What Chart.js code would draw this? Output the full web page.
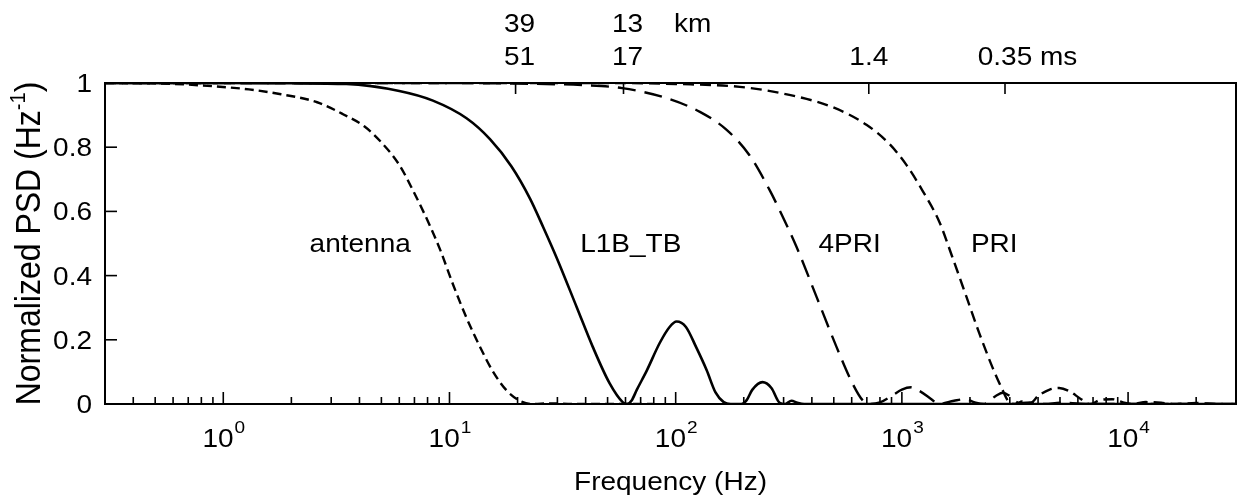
<!DOCTYPE html>
<html>
<head>
<meta charset="utf-8">
<script src="https://cdn.jsdelivr.net/npm/chart.js@4.4.1/dist/chart.umd.min.js"></script>
<style>
  html, body { margin: 0; padding: 0; background: #ffffff; }
  #c { display: block; }
</style>
</head>
<body>
<canvas id="c" width="1244" height="500"></canvas>
<script>
// ---------------- data ----------------
const antennaFreq = [0.3, 0.6, 0.9, 1.3, 1.8, 2.6, 3.4, 4.2, 5.0, 6.0, 6.9, 8.2, 9.1, 10.4, 11.9, 13.6, 15.6, 17.9, 20.5, 23, 28, 35, 50, 80];
const antennaPSD  = [1.0, 0.997, 0.99, 0.98, 0.965, 0.94, 0.902, 0.865, 0.815, 0.745, 0.665, 0.555, 0.48, 0.37, 0.268, 0.18, 0.10, 0.042, 0.01, 0.0, 0.002, 0.0, 0.0, 0.0];

const l1bFreq = [0.3, 1, 2, 3.5, 6.0, 8.45, 11.9, 15.1, 18.8, 22.7, 26, 29.8, 36.6, 43, 51, 58.3, 61,
                 64, 67.3, 74.5, 85, 94, 101, 111, 123, 137, 150, 163, 175, 195, 206, 218, 242, 265, 288, 305, 325, 345, 370, 500, 1000, 5000, 30000];
const l1bPSD  = [1.0, 1.0, 0.999, 0.997, 0.975, 0.945, 0.89, 0.825, 0.74, 0.64, 0.55, 0.455, 0.30, 0.178, 0.065, 0.006, 0.0,
                 0.012, 0.044, 0.104, 0.19, 0.24, 0.257, 0.24, 0.178, 0.106, 0.036, 0.006, 0.0, 0.0, 0.012, 0.044, 0.068, 0.05, 0.004, 0.0, 0.01, 0.004, 0.0, 0.0, 0.0, 0.0, 0.0];

const pri4Freq = [0.3, 10, 20, 40, 58, 91, 128, 168, 212, 260, 288, 342, 420, 514, 604, 670, 720,
                  800, 900, 1000, 1100, 1200, 1350, 1450, 1700, 1900, 2100, 2300, 2600, 2800, 3000, 3300, 3800, 4300, 5000, 7000, 30000];
const pri4PSD  = [1.0, 1.0, 0.998, 0.993, 0.984, 0.953, 0.91, 0.854, 0.775, 0.667, 0.604, 0.49, 0.333, 0.178, 0.065, 0.012, 0.0,
                  0.005, 0.025, 0.045, 0.052, 0.04, 0.015, 0.0, 0.01, 0.015, 0.005, 0.0, 0.025, 0.035, 0.025, 0.003, 0.005, 0.0, 0.004, 0.0, 0.0];

const priFreq = [0.3, 50, 100, 192, 318, 493, 697, 881, 1047, 1233, 1465, 1671, 1927, 2200, 2512, 2780, 2960, 3200,
                 3400, 3700, 4000, 4500, 4960, 5500, 6200, 6800, 7500, 8500, 9500, 10500, 12000, 14000, 16000, 20000, 25000, 30000];
const priPSD  = [1.0, 1.0, 0.997, 0.988, 0.963, 0.925, 0.87, 0.81, 0.745, 0.665, 0.567, 0.458, 0.335, 0.22, 0.115, 0.045, 0.008, 0.0,
                 0.008, 0.003, 0.025, 0.045, 0.05, 0.04, 0.015, 0.0, 0.012, 0.015, 0.005, 0.0, 0.006, 0.004, 0.0, 0.003, 0.0, 0.0];

// axis ticks / labels
const xMin = 0.3, xMax = 30000;
const xDecades = [1, 10, 100, 1000, 10000];
const xDecadeExp = ['0', '1', '2', '3', '4'];
const yTicks = [0, 0.2, 0.4, 0.6, 0.8, 1];
const yTickLabels = ['0', '0.2', '0.4', '0.6', '0.8', '1'];
const topTickFreqs = [19.6, 58.8, 714, 2857];
const topKmLabels = ['39', '13', '', ''];
const topMsLabels = ['51', '17', '1.4', '0.35'];

// curve annotations (freq, psd) anchors
const curveNames = ['antenna', 'L1B_TB', '4PRI', 'PRI'];
const curveNameFreq = [4.03, 63.3, 587, 2560];
const curveNamePSD = [0.473, 0.473, 0.473, 0.473];

// ---------------- helpers ----------------
function pts(xs, ys) { return xs.map((x, i) => ({ x: x, y: ys[i] })); }
function minorTicks() {
  const out = [];
  for (let e = -1; e <= 4; e++) {
    for (let k = 1; k <= 9; k++) {
      const v = k * Math.pow(10, e);
      if (v >= xMin * 0.999 && v <= xMax * 1.001) out.push({ value: v, major: k === 1 });
    }
  }
  return out;
}
const FONT = '"Liberation Sans", Arial, Helvetica, sans-serif';
const SX = 1.12;
const INK = '#000000';
function txt(ctx, s, x, y, size, align) {
  ctx.save();
  ctx.font = size + 'px ' + FONT;
  ctx.textBaseline = 'alphabetic';
  ctx.textAlign = 'left';
  const w = ctx.measureText(s).width * SX;
  const x0 = align === 'center' ? x - w / 2 : (align === 'right' ? x - w : x);
  ctx.translate(x0, y);
  ctx.scale(SX, 1);
  ctx.fillStyle = INK;
  ctx.fillText(s, 0, 0);
  ctx.restore();
  return w;
}
function wid(ctx, s, size) { ctx.save(); ctx.font = size + 'px ' + FONT; const w = ctx.measureText(s).width * SX; ctx.restore(); return w; }

const decor = {
  id: 'decor',
  afterDraw(chart) {
    const ctx = chart.ctx;
    const a = chart.chartArea;
    const xs = chart.scales.x, ys = chart.scales.y, xt = chart.scales.x2;
    const FS = 25;
    ctx.save();
    ctx.strokeStyle = INK;
    ctx.lineWidth = 2;
    ctx.lineCap = 'butt';
    // frame
    ctx.strokeRect(a.left, a.top, a.right - a.left, a.bottom - a.top);
    // bottom ticks (inward)
    ctx.lineWidth = 1.6;
    xs.ticks.forEach(t => {
      const px = xs.getPixelForValue(t.value);
      const len = t.major ? 12 : 7;
      ctx.beginPath(); ctx.moveTo(px, a.bottom); ctx.lineTo(px, a.bottom - len); ctx.stroke();
    });
    // left ticks
    ys.ticks.forEach(t => {
      const py = ys.getPixelForValue(t.value);
      ctx.beginPath(); ctx.moveTo(a.left, py); ctx.lineTo(a.left + 12, py); ctx.stroke();
    });
    // top ticks
    xt.ticks.forEach(t => {
      const px = xt.getPixelForValue(t.value);
      ctx.beginPath(); ctx.moveTo(px, a.top); ctx.lineTo(px, a.top + 11); ctx.stroke();
    });
    ctx.restore();

    // y tick labels
    ys.ticks.forEach((t, i) => {
      const py = ys.getPixelForValue(t.value);
      txt(ctx, yTickLabels[i], a.left - 13, py + 9, FS, 'right');
    });
    // x decade labels 10^n
    xDecades.forEach((v, i) => {
      const px = xs.getPixelForValue(v);
      const w1 = wid(ctx, '10', FS), w2 = wid(ctx, xDecadeExp[i], 17);
      const x0 = px - (w1 + w2) / 2;
      txt(ctx, '10', x0, a.bottom + 43, FS, 'left');
      txt(ctx, xDecadeExp[i], x0 + w1 + 1, a.bottom + 29, 17, 'left');
    });
    // x title
    txt(ctx, 'Frequency (Hz)', (a.left + a.right) / 2, a.bottom + 86, FS, 'center');
    // top labels
    let kmEnd = 0, msEnd = 0;
    topTickFreqs.forEach((f, i) => {
      const px = xt.getPixelForValue(f);
      if (topKmLabels[i]) { const w = txt(ctx, topKmLabels[i], px + 4, 32, FS, 'center'); kmEnd = Math.max(kmEnd, px + 4 + w / 2); }
      if (topMsLabels[i]) { const sh = i < 2 ? 4 : 0; const w = txt(ctx, topMsLabels[i], px + sh, 65, FS, 'center'); msEnd = Math.max(msEnd, px + sh + w / 2); }
    });
    txt(ctx, 'km', kmEnd + 31, 32, FS, 'left');
    txt(ctx, 'ms', msEnd + wid(ctx, ' ', FS), 65, FS, 'left');

    // curve names
    curveNames.forEach((n, i) => {
      txt(ctx, n, xs.getPixelForValue(curveNameFreq[i]), ys.getPixelForValue(curveNamePSD[i]), FS, 'center');
    });

    // y title with superscript
    ctx.save();
    const TS = 32;
    ctx.translate(40, (a.top + a.bottom) / 2);
    ctx.rotate(-Math.PI / 2);
    ctx.scale(1, SX);
    ctx.fillStyle = INK;
    ctx.textBaseline = 'alphabetic';
    ctx.textAlign = 'left';
    const p1 = 'Normalized PSD (Hz', sup = '-1', p3 = ')';
    ctx.font = TS + 'px ' + FONT; const w1 = ctx.measureText(p1).width; const w3 = ctx.measureText(p3).width;
    ctx.font = Math.round(TS * 0.62) + 'px ' + FONT; const w2 = ctx.measureText(sup).width;
    let x = -(w1 + w2 + w3) / 2;
    ctx.font = TS + 'px ' + FONT; ctx.fillText(p1, x, 0); x += w1;
    ctx.font = Math.round(TS * 0.62) + 'px ' + FONT; ctx.fillText(sup, x, -TS * 0.42); x += w2;
    ctx.font = TS + 'px ' + FONT; ctx.fillText(p3, x, 0);
    ctx.restore();
  }
};

function ds(label, xs, ys, dash, width) {
  return {
    label: label, data: pts(xs, ys), xAxisID: 'x', yAxisID: 'y',
    showLine: true, borderColor: INK, borderWidth: width, borderDash: dash,
    pointRadius: 0, pointHoverRadius: 0, fill: false,
    cubicInterpolationMode: 'monotone', borderCapStyle: 'butt'
  };
}

new Chart(document.getElementById('c'), {
  type: 'scatter',
  data: {
    datasets: [
      ds('antenna', antennaFreq, antennaPSD, [9, 5], 2.4),
      ds('L1B_TB', l1bFreq, l1bPSD, [], 2.6),
      ds('4PRI', pri4Freq, pri4PSD, [18, 9], 2.4),
      ds('PRI', priFreq, priPSD, [11, 6], 2.4)
    ]
  },
  options: {
    responsive: false,
    animation: false,
    events: [],
    layout: { padding: { left: 0, right: 8, top: 0, bottom: 0 } },
    plugins: { legend: { display: false }, tooltip: { enabled: false } },
    scales: {
      x: {
        type: 'logarithmic', position: 'bottom', min: xMin, max: xMax,
        afterBuildTicks(s) { s.ticks = minorTicks(); },
        ticks: { display: false }, grid: { display: false }, border: { display: false },
        afterFit(s) { s.height = 96; }
      },
      x2: {
        type: 'logarithmic', position: 'top', min: xMin, max: xMax,
        afterBuildTicks(s) { s.ticks = topTickFreqs.map(v => ({ value: v })); },
        ticks: { display: false }, grid: { display: false }, border: { display: false },
        afterFit(s) { s.height = 83; }
      },
      y: {
        type: 'linear', position: 'left', min: 0, max: 1,
        afterBuildTicks(s) { s.ticks = yTicks.map(v => ({ value: v })); },
        ticks: { display: false }, grid: { display: false }, border: { display: false },
        afterFit(s) { s.width = 105; }
      }
    }
  },
  plugins: [decor]
});
</script>
</body>
</html>
